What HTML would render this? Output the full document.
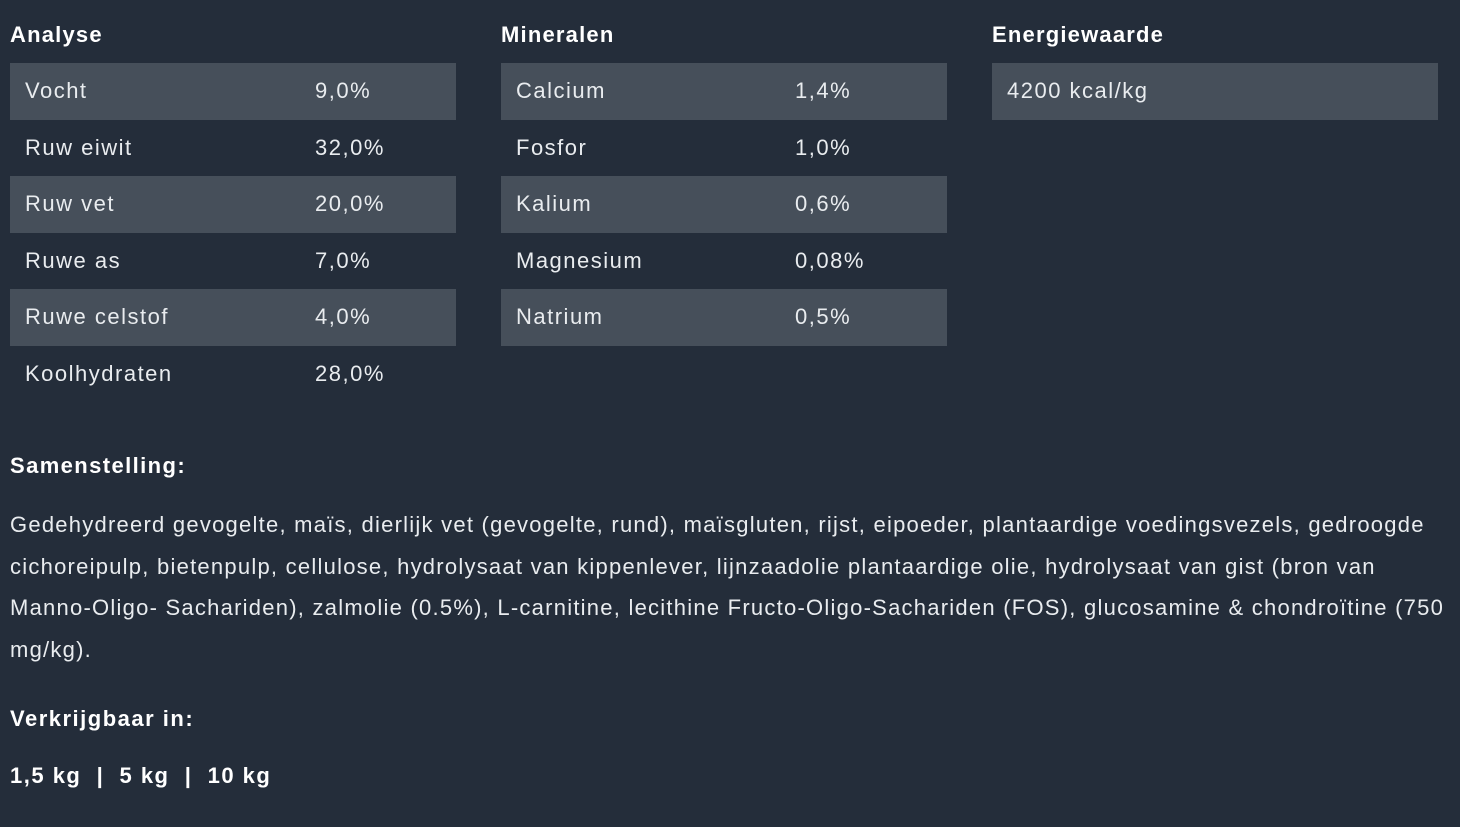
<!DOCTYPE html>
<html><head><meta charset="utf-8"><style>
body{margin:0;width:1460px;height:827px;background:#242d3a;color:#e9ecef;font-family:"Liberation Sans","DejaVu Sans",sans-serif;overflow:hidden;position:relative;letter-spacing:1.3px}
.col{position:absolute;top:0;width:446px}
h3{margin:0;position:absolute;top:22px;font-size:22px;font-weight:bold;color:#fff;letter-spacing:1.2px}
.rows{position:absolute;top:63px;width:446px}
.r{height:56.5px;line-height:56.5px;font-size:22px;position:relative;padding-left:15px;letter-spacing:1.5px}
.r.d{background:#464f5a}
.r span{position:absolute;left:305px}
.m .r span{left:294px}
.t{position:absolute;left:10px;font-size:22px}
</style></head><body>
<div class="col" style="left:10px"><h3>Analyse</h3><div class="rows">
<div class="r d">Vocht<span>9,0%</span></div>
<div class="r">Ruw eiwit<span>32,0%</span></div>
<div class="r d">Ruw vet<span>20,0%</span></div>
<div class="r">Ruwe as<span>7,0%</span></div>
<div class="r d">Ruwe celstof<span>4,0%</span></div>
<div class="r">Koolhydraten<span>28,0%</span></div>
</div></div>
<div class="col m" style="left:501px"><h3>Mineralen</h3><div class="rows">
<div class="r d">Calcium<span>1,4%</span></div>
<div class="r">Fosfor<span>1,0%</span></div>
<div class="r d">Kalium<span>0,6%</span></div>
<div class="r">Magnesium<span>0,08%</span></div>
<div class="r d">Natrium<span>0,5%</span></div>
</div></div>
<div class="col" style="left:992px"><h3>Energiewaarde</h3><div class="rows">
<div class="r d">4200 kcal/kg</div>
</div></div>
<div class="t" style="top:453px;font-weight:bold;color:#fff;letter-spacing:1.4px">Samenstelling:</div>
<div class="t" style="top:504px;line-height:41.5px;width:1445px;white-space:nowrap;letter-spacing:1.24px">Gedehydreerd gevogelte, maïs, dierlijk vet (gevogelte, rund), maïsgluten, rijst, eipoeder, plantaardige voedingsvezels, gedroogde<br>cichoreipulp, bietenpulp, cellulose, hydrolysaat van kippenlever, lijnzaadolie plantaardige olie, hydrolysaat van gist (bron van<br>Manno-Oligo- Sachariden), zalmolie (0.5%), L-carnitine, lecithine Fructo-Oligo-Sachariden (FOS), glucosamine &amp; chondroïtine (750<br>mg/kg).</div>
<div class="t" style="top:706px;font-weight:bold;color:#fff;letter-spacing:1.5px">Verkrijgbaar in:</div>
<div class="t" style="top:763px;font-weight:bold;color:#fff;white-space:pre;letter-spacing:1.5px">1,5 kg  |  5 kg  |  10 kg</div>
</body></html>
